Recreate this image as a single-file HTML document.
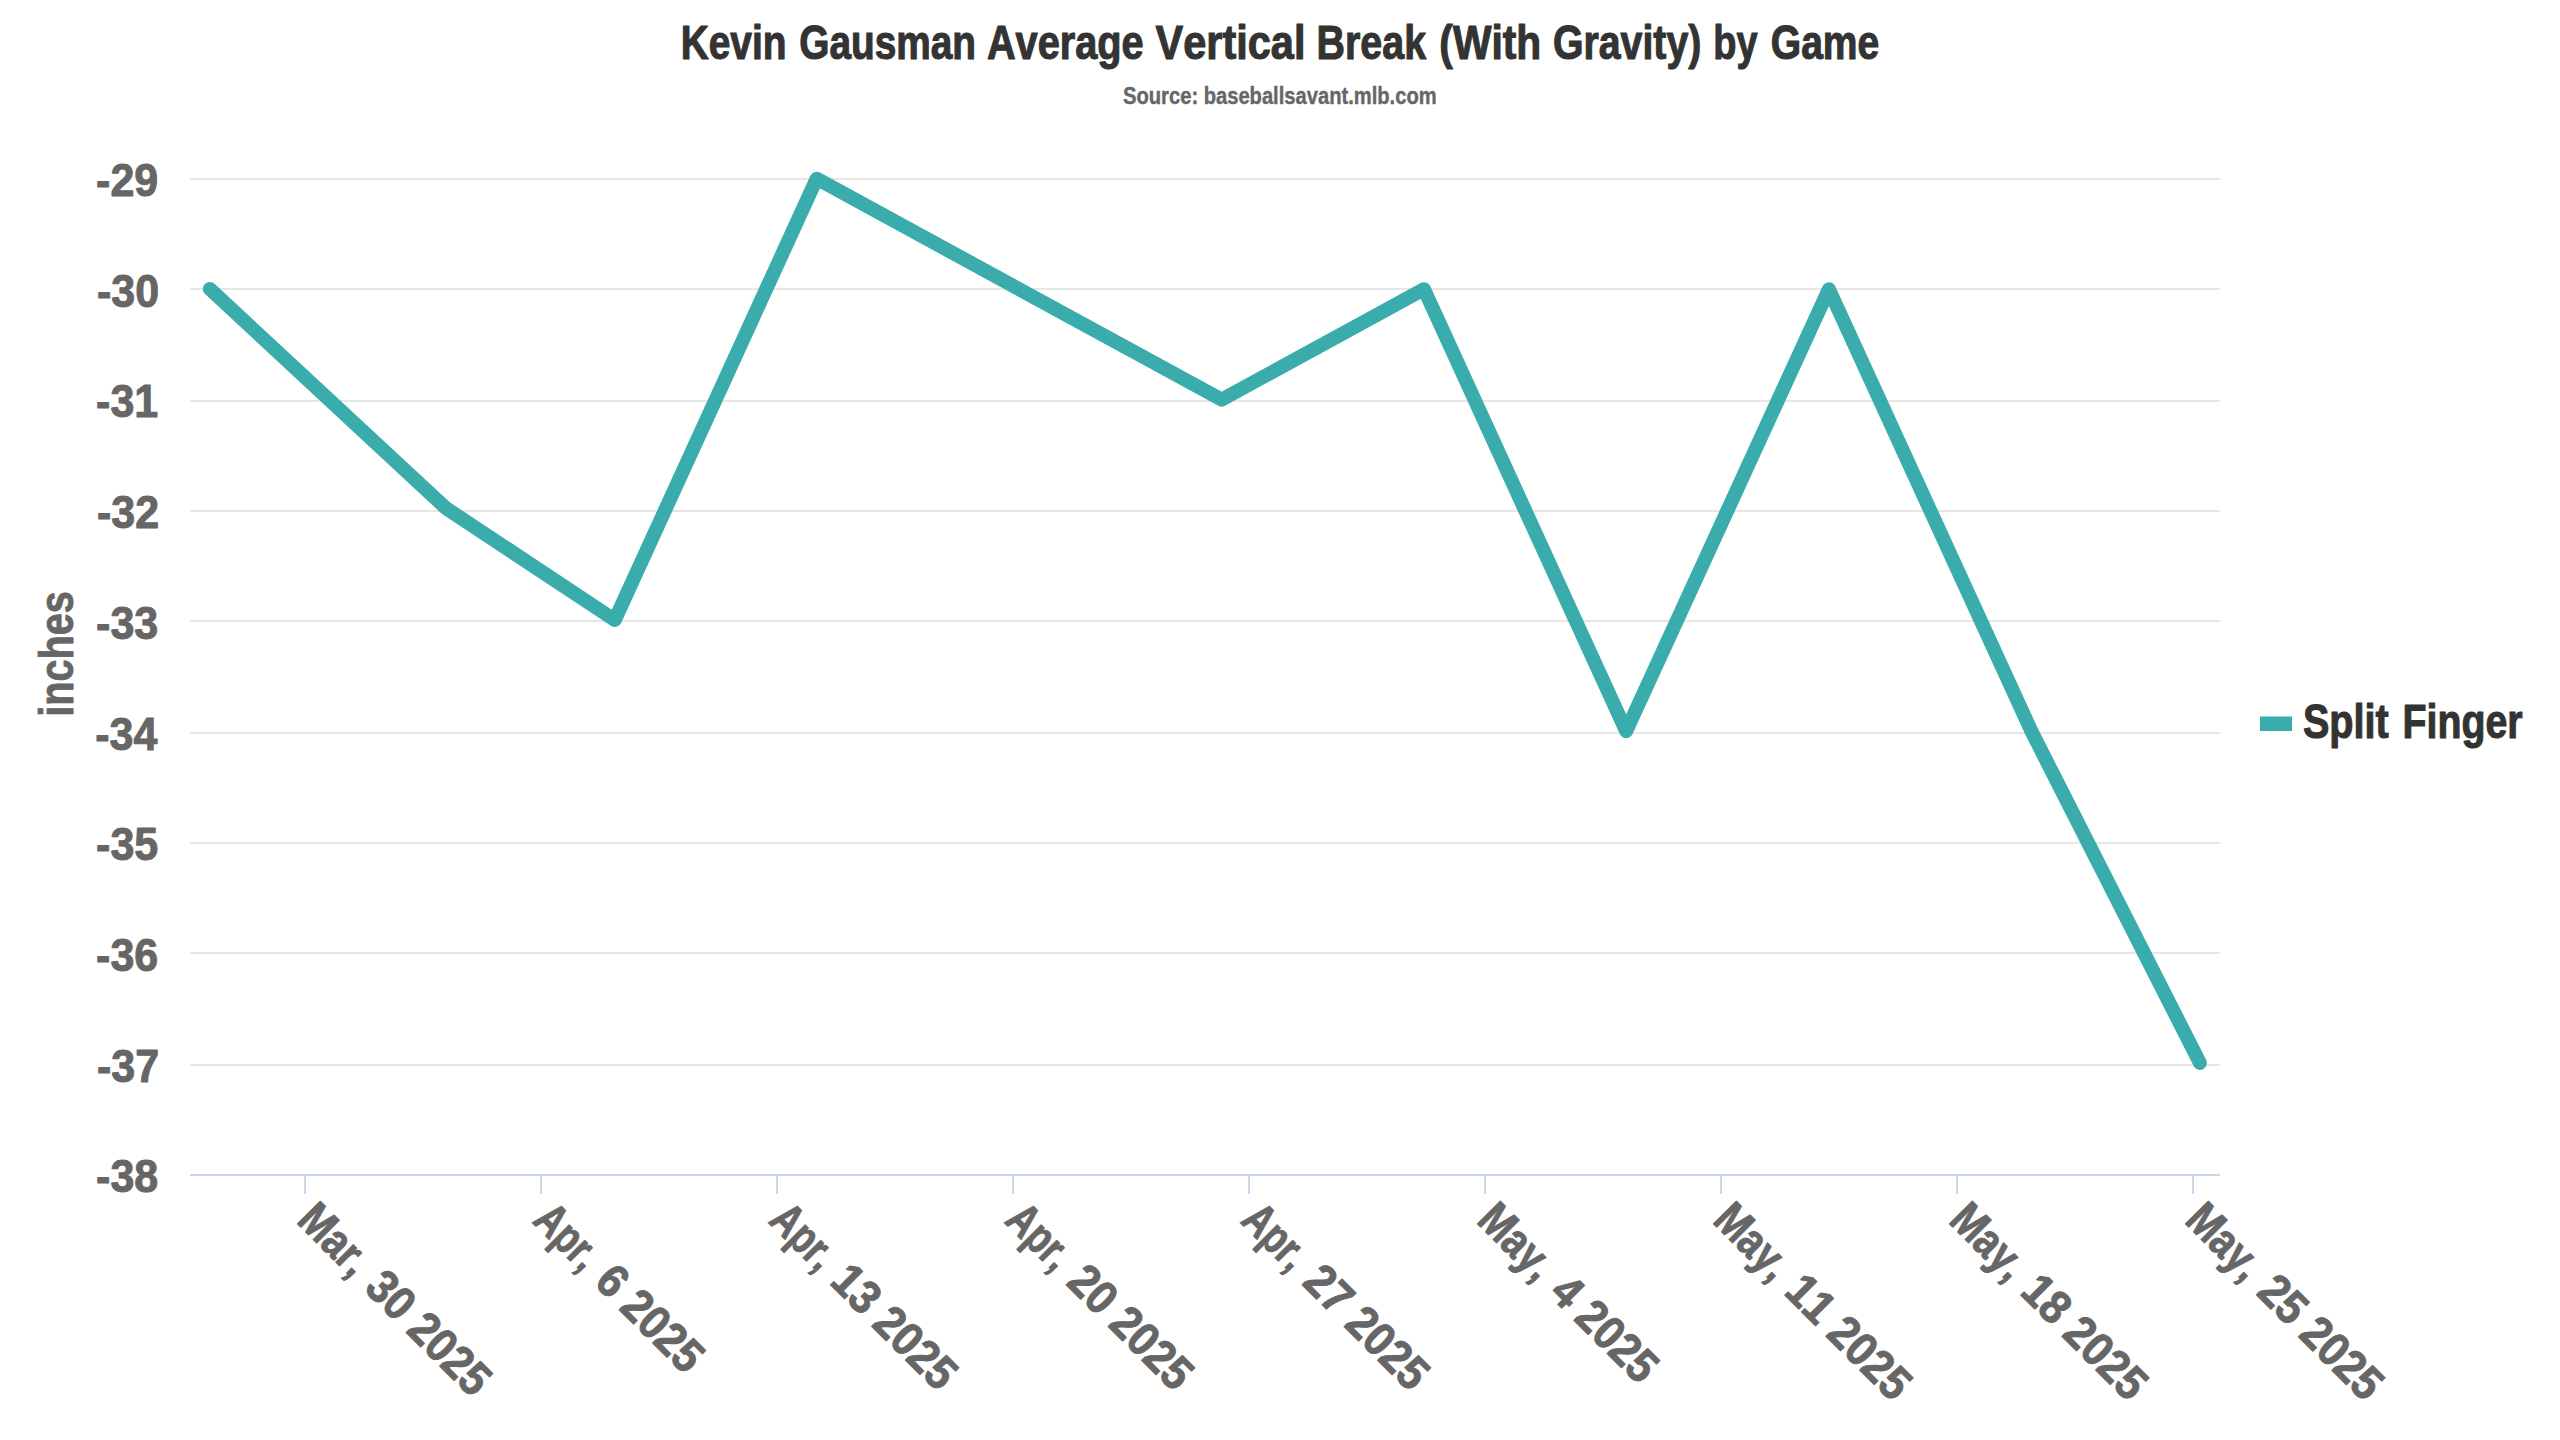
<!DOCTYPE html>
<html lang="en"><head><meta charset="utf-8"><title>Kevin Gausman Average Vertical Break (With Gravity) by Game</title>
<style>html,body{margin:0;padding:0;background:#fff;overflow:hidden}body{width:2560px;height:1440px}svg.chart{display:block}svg.chart text{font-family:"Liberation Sans","DejaVu Sans",sans-serif;font-weight:bold;font-kerning:none;stroke-linejoin:round}</style></head>
<body>
<svg class="chart" width="2560" height="1440" viewBox="0 0 2560 1440">
<rect x="0" y="0" width="2560" height="1440" fill="#ffffff"/>
<rect x="190" y="178" width="2030" height="2" fill="#e6e6e6"/>
<rect x="190" y="288" width="2030" height="2" fill="#e6e6e6"/>
<rect x="190" y="400" width="2030" height="2" fill="#e6e6e6"/>
<rect x="190" y="510" width="2030" height="2" fill="#e6e6e6"/>
<rect x="190" y="620" width="2030" height="2" fill="#e6e6e6"/>
<rect x="190" y="732" width="2030" height="2" fill="#e6e6e6"/>
<rect x="190" y="842" width="2030" height="2" fill="#e6e6e6"/>
<rect x="190" y="952" width="2030" height="2" fill="#e6e6e6"/>
<rect x="190" y="1064" width="2030" height="2" fill="#e6e6e6"/>
<rect x="190" y="1174" width="2030" height="2" fill="#ccd6eb"/>
<rect x="304" y="1175" width="2" height="19" fill="#ccd6eb"/>
<rect x="540" y="1175" width="2" height="19" fill="#ccd6eb"/>
<rect x="776" y="1175" width="2" height="19" fill="#ccd6eb"/>
<rect x="1012" y="1175" width="2" height="19" fill="#ccd6eb"/>
<rect x="1248" y="1175" width="2" height="19" fill="#ccd6eb"/>
<rect x="1484" y="1175" width="2" height="19" fill="#ccd6eb"/>
<rect x="1720" y="1175" width="2" height="19" fill="#ccd6eb"/>
<rect x="1956" y="1175" width="2" height="19" fill="#ccd6eb"/>
<rect x="2192" y="1175" width="2" height="19" fill="#ccd6eb"/>
<path d="M 209.8 288.9 L 445.9 508.1 L 614.8 620.0 L 816.7 178.7 L 1221.7 399.6 L 1424.0 289.2 L 1626.2 731.2 L 1828.9 289.2 L 2031.4 731.2 L 2199.9 1062.9" fill="none" stroke="#3BACAC" stroke-width="14" stroke-linejoin="round" stroke-linecap="round"/>
<rect x="2260" y="716.5" width="32" height="14.5" fill="#3BACAC"/>
<g>
<text transform="translate(680.669,59.3) scale(0.81,1)" font-size="48" fill="#333333" stroke="#333333" stroke-width="1.1">Kevin</text>
<text transform="translate(799.191,59.3) scale(0.809,1)" font-size="48" fill="#333333" stroke="#333333" stroke-width="1.1">Gausman</text>
<text transform="translate(986.922,59.3) scale(0.828,1)" font-size="48" fill="#333333" stroke="#333333" stroke-width="1.1">Average</text>
<text transform="translate(1155.6,59.3) scale(0.864,1)" font-size="48" fill="#333333" stroke="#333333" stroke-width="1.1">Vertical</text>
<text transform="translate(1316.538,59.3) scale(0.821,1)" font-size="48" fill="#333333" stroke="#333333" stroke-width="1.1">Break</text>
<text transform="translate(1439.3,59.3) scale(0.85,1)" font-size="48" fill="#333333" stroke="#333333" stroke-width="1.1">(With</text>
<text transform="translate(1552.932,59.3) scale(0.818,1)" font-size="48" fill="#333333" stroke="#333333" stroke-width="1.1">Gravity)</text>
<text transform="translate(1713.228,59.3) scale(0.791,1)" font-size="48" fill="#333333" stroke="#333333" stroke-width="1.1">by</text>
<text transform="translate(1770.787,59.3) scale(0.813,1)" font-size="48" fill="#333333" stroke="#333333" stroke-width="1.1">Game</text>
</g>
<g>
<text transform="translate(1122.907,104.4) scale(0.843,1)" font-size="24" fill="#666666" stroke="#666666" stroke-width="0.4">Source:</text>
<text transform="translate(1203.66,104.4) scale(0.84,1)" font-size="24" fill="#666666" stroke="#666666" stroke-width="0.4">baseballsavant.mlb.com</text>
</g>
<g>
<text transform="translate(2302.925,738) scale(0.825,1)" font-size="48" fill="#333333" stroke="#333333" stroke-width="1.1">Split</text>
<text transform="translate(2402.545,738) scale(0.818,1)" font-size="48" fill="#333333" stroke="#333333" stroke-width="1.1">Finger</text>
</g>
<g>
<text transform="translate(96.085,1192.3) scale(0.915,1)" font-size="47" fill="#666666" stroke="#666666" stroke-width="1.0">-38</text>
<text transform="translate(97,1081.6) scale(0.915,1)" font-size="47" fill="#666666" stroke="#666666" stroke-width="1.0">-37</text>
<text transform="translate(96.085,970.9) scale(0.915,1)" font-size="47" fill="#666666" stroke="#666666" stroke-width="1.0">-36</text>
<text transform="translate(96.085,860.2) scale(0.915,1)" font-size="47" fill="#666666" stroke="#666666" stroke-width="1.0">-35</text>
<text transform="translate(95.17,749.5) scale(0.915,1)" font-size="47" fill="#666666" stroke="#666666" stroke-width="1.0">-34</text>
<text transform="translate(96.085,638.8) scale(0.915,1)" font-size="47" fill="#666666" stroke="#666666" stroke-width="1.0">-33</text>
<text transform="translate(97,528.1) scale(0.915,1)" font-size="47" fill="#666666" stroke="#666666" stroke-width="1.0">-32</text>
<text transform="translate(96.085,417.4) scale(0.915,1)" font-size="47" fill="#666666" stroke="#666666" stroke-width="1.0">-31</text>
<text transform="translate(97,306.7) scale(0.915,1)" font-size="47" fill="#666666" stroke="#666666" stroke-width="1.0">-30</text>
<text transform="translate(96.085,196) scale(0.915,1)" font-size="47" fill="#666666" stroke="#666666" stroke-width="1.0">-29</text>
</g>
<text transform="translate(73.4,716.754) rotate(-90) scale(0.818,1)" font-size="48.5" fill="#666666" stroke="#666666" stroke-width="0.9">inches</text>
<g>
<g transform="translate(297.3,1223.8) rotate(45)" font-size="47" fill="#666666" stroke="#666666" stroke-width="1.0">
<text transform="translate(-2.486,0) scale(0.829,1)">Mar,</text>
<text transform="translate(92.892,0) scale(0.908,1)">30 2025</text>
</g>
<g transform="translate(532,1222.6) rotate(45)" font-size="47" fill="#666666" stroke="#666666" stroke-width="1.0">
<text transform="translate(-0.765,0) scale(0.765,1)">Apr,</text>
<text transform="translate(86.346,0) scale(0.904,1)">6 2025</text>
</g>
<g transform="translate(768,1222.6) rotate(45)" font-size="47" fill="#666666" stroke="#666666" stroke-width="1.0">
<text transform="translate(-0.765,0) scale(0.765,1)">Apr,</text>
<text transform="translate(85.434,0) scale(0.913,1)">13 2025</text>
</g>
<g transform="translate(1004,1222.6) rotate(45)" font-size="47" fill="#666666" stroke="#666666" stroke-width="1.0">
<text transform="translate(-0.765,0) scale(0.765,1)">Apr,</text>
<text transform="translate(86.352,0) scale(0.908,1)">20 2025</text>
</g>
<g transform="translate(1240,1222.6) rotate(45)" font-size="47" fill="#666666" stroke="#666666" stroke-width="1.0">
<text transform="translate(-0.765,0) scale(0.765,1)">Apr,</text>
<text transform="translate(86.352,0) scale(0.908,1)">27 2025</text>
</g>
<g transform="translate(1477.3,1223.8) rotate(45)" font-size="47" fill="#666666" stroke="#666666" stroke-width="1.0">
<text transform="translate(-2.47,0) scale(0.823,1)">May,</text>
<text transform="translate(99.9,0) scale(0.898,1)">4 2025</text>
</g>
<g transform="translate(1713.3,1223.8) rotate(45)" font-size="47" fill="#666666" stroke="#666666" stroke-width="1.0">
<text transform="translate(-2.47,0) scale(0.823,1)">May,</text>
<text transform="translate(98.074,0) scale(0.913,1)">11 2025</text>
</g>
<g transform="translate(1949.3,1223.8) rotate(45)" font-size="47" fill="#666666" stroke="#666666" stroke-width="1.0">
<text transform="translate(-2.47,0) scale(0.823,1)">May,</text>
<text transform="translate(98.074,0) scale(0.913,1)">18 2025</text>
</g>
<g transform="translate(2185.3,1223.8) rotate(45)" font-size="47" fill="#666666" stroke="#666666" stroke-width="1.0">
<text transform="translate(-2.47,0) scale(0.823,1)">May,</text>
<text transform="translate(98.992,0) scale(0.908,1)">25 2025</text>
</g>
</g>
</svg>
</body></html>
